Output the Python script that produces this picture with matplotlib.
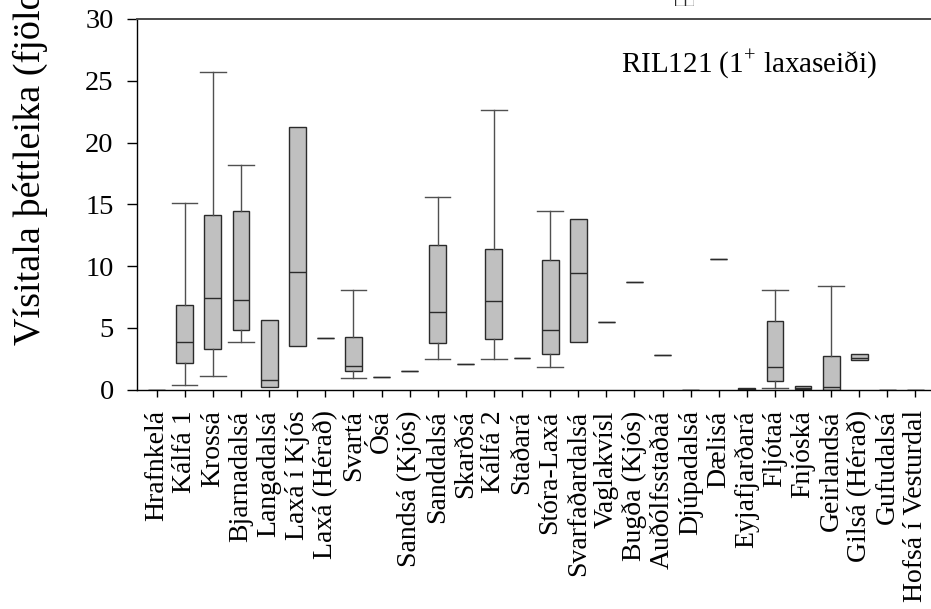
import numpy as np
import matplotlib
matplotlib.use("Agg")
import matplotlib.pyplot as plt

plt.rcParams["font.family"] = ["Liberation Serif", "DejaVu Serif"]
plt.rcParams["mathtext.fontset"] = "custom"
plt.rcParams["mathtext.rm"] = "Liberation Serif"

# ── Density index per river (box statistics) ─────────────────────────────────
rivers = ["Hrafnkelá", "Kálfá 1", "Krossá", "Bjarnadalsá", "Langadalsá",
          "Laxá í Kjós", "Laxá (Hérað)", "Svartá", "Ósá", "Sandsá (Kjós)",
          "Sanddalsá", "Skarðsá", "Kálfá 2", "Staðará", "Stóra-Laxá",
          "Svarfaðardalsá", "Vaglakvísl", "Bugða (Kjós)", "Auðólfsstaðaá",
          "Djúpadalsá", "Dælisá", "Eyjafjarðará", "Fljótaá", "Fnjóská",
          "Geirlandsá", "Gilsá (Hérað)", "Gufudalsá", "Hofsá í Vesturdal"]
whislo = [0, 0.34, 1.12, 3.85, 0.18, 3.55, 4.17, 0.96, 1.04, 1.52,
          2.47, 2.04, 2.44, 2.55, 1.80, 3.85, 5.47, 8.73, 2.79, 0,
          10.59, 0, 0.10, 0.07, 0, 2.39, 0, 0]
q1     = [0, 2.12, 3.25, 4.79, 0.18, 3.55, 4.17, 1.50, 1.04, 1.52,
          3.74, 2.04, 4.11, 2.55, 2.85, 3.85, 5.47, 8.73, 2.79, 0,
          10.59, 0, 0.69, 0.07, 0, 2.39, 0, 0]
med    = [0, 3.86, 7.43, 7.22, 0.77, 9.49, 4.17, 1.90, 1.04, 1.52,
          6.28, 2.04, 7.17, 2.55, 4.79, 9.41, 5.47, 8.73, 2.79, 0,
          10.59, 0.05, 1.85, 0.15, 0.23, 2.55, 0, 0]
q3     = [0, 6.85, 14.14, 14.44, 5.63, 21.26, 4.17, 4.25, 1.04, 1.52,
          11.73, 2.04, 11.40, 2.55, 10.46, 13.83, 5.47, 8.73, 2.79, 0,
          10.59, 0.10, 5.52, 0.31, 2.69, 2.87, 0, 0]
whishi = [0, 15.14, 25.7, 18.18, 5.63, 21.26, 4.17, 8.08, 1.04, 1.52,
          15.56, 2.04, 22.66, 2.55, 14.43, 13.83, 5.47, 8.73, 2.79, 0,
          10.59, 0.10, 8.06, 0.31, 8.41, 2.87, 0, 0]

y_ticks = [0, 5, 10, 15, 20, 25, 30]
panel_label = r"RIL121 (1$^{+}$ laxaseiði)"
y_label = "Vísitala þéttleika (fjöldi/100 m²)"

# fragment of the panel above (only its lower edge shows)
frag_q1, frag_med, frag_q3 = 0.0, 0.5, 1.0

stats = [dict(whislo=a, q1=b, med=c, q3=d, whishi=e, label=n)
         for n, a, b, c, d, e in zip(rivers, whislo, q1, med, q3, whishi)]

W, H = 931, 609
fig = plt.figure(figsize=(W / 100, H / 100), dpi=100)
ax = fig.add_axes([137.3 / W, 1 - 389.5 / H, (945 - 137.3) / W, (389.5 - 19) / H])

pos = np.arange(len(rivers))
art = ax.bxp(stats, positions=pos, widths=0.6, showfliers=False, patch_artist=True,
             boxprops=dict(facecolor="#c0c0c0", edgecolor="#2b2b2b", linewidth=1.0),
             medianprops=dict(color="#2b2b2b", linewidth=1.0),
             whiskerprops=dict(color="#505050", linewidth=1.0),
             capprops=dict(color="#505050", linewidth=1.0),
             capwidths=0.9)

# no caps where the whisker collapses onto the box
for i, s in enumerate(stats):
    if s["whislo"] == s["q1"]:
        art["caps"][2 * i].set_visible(False)
    if s["whishi"] == s["q3"]:
        art["caps"][2 * i + 1].set_visible(False)

ax.set_xlim(-0.69, 27 + (945 - 915.4) / 28.15)
ax.set_ylim(0, 30)
ax.set_yticks(y_ticks)
ax.set_xticks(pos)
ax.set_xticklabels(rivers, rotation=90, fontsize=20)
ax.tick_params(axis="y", direction="out", length=7, width=1, pad=10, labelsize=20.5)
ax.tick_params(axis="x", direction="out", length=5, width=1, pad=10)

for side in ("left", "bottom"):
    ax.spines[side].set_color("black")
    ax.spines[side].set_linewidth(1.0)
ax.spines["top"].set_color("#4a4a4a")
ax.spines["top"].set_linewidth(1.4)
ax.spines["right"].set_visible(False)

ax.text(0.916, 0.876, panel_label, transform=ax.transAxes, ha="right", va="center",
        fontsize=21)

fig.text(30 / W, 1 - 345 / H, y_label, rotation=90, ha="center", va="bottom",
         fontsize=27.5)

# lower edge of the box from the panel above
ax_frag = fig.add_axes([675 / W, 1 - 6 / H, 19 / W, 14 / H])
ax_frag.bxp([dict(whislo=frag_q1, q1=frag_q1, med=frag_med, q3=frag_q3, whishi=frag_q3)],
            positions=[0], widths=1.0, vert=False, showfliers=False, showcaps=False,
            patch_artist=True,
            boxprops=dict(facecolor="white", edgecolor="#2b2b2b", linewidth=1.0),
            medianprops=dict(color="#2b2b2b", linewidth=1.0))
ax_frag.set_xlim(0, 1)
ax_frag.set_ylim(-0.5, 0.5)
ax_frag.axis("off")

fig.savefig("out.png", dpi=100)
